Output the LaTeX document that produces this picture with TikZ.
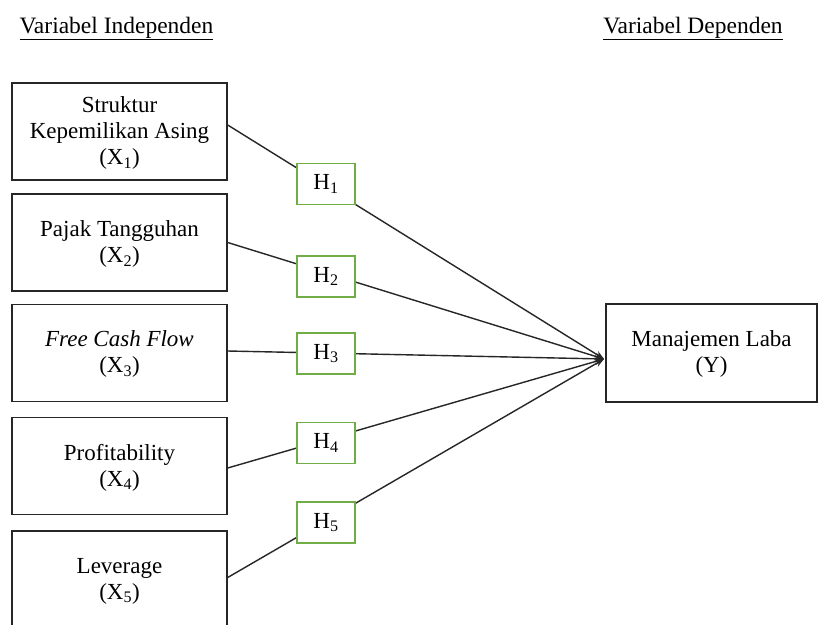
\documentclass[tikz,border=0pt]{standalone}
\usepackage{fontspec}
\setmainfont{Liberation Serif}
\usetikzlibrary{arrows.meta}
\definecolor{hgreen}{HTML}{70AD47}
\begin{document}
\begin{tikzpicture}[x=1pt,y=-1pt,
  varbox/.style={draw=black!85, line width=1.4pt, fill=white, minimum width=215pt,
    minimum height=97pt, align=center, inner sep=0pt, text depth=2pt, font=\fontsize{23}{26}\selectfont},
  hbox/.style={draw=hgreen, line width=1.3pt, fill=white, minimum width=58pt,
    minimum height=41pt, inner sep=0pt, font=\fontsize{23}{26}\selectfont},
  head/.style={inner sep=0pt, font=\fontsize{23.5}{26}\selectfont},
  conn/.style={draw=black!85, line width=1.4pt, -{Stealth[length=9pt,width=7pt]}}]
\useasboundingbox (0,0) rectangle (818,624);
\clip (0,0) rectangle (818,624);
\fill[white] (0,0) rectangle (818,624);

\node[head] (hi) at (116.5,28.5) {\underline{Variabel Independen}};
\node[head] (hd) at (693,28.5) {\underline{Variabel Dependen}};

\node[varbox] (b1) at (119.5,131.5) {Struktur\\Kepemilikan Asing\\(X\textsubscript{1})};
\node[varbox] (b2) at (119.5,242.5) {Pajak Tangguhan\\(X\textsubscript{2})};
\node[varbox] (b3) at (119.5,353) {\textit{Free Cash Flow}\\(X\textsubscript{3})};
\node[varbox] (b4) at (119.5,466) {Profitability\\(X\textsubscript{4})};
\node[varbox] (b5) at (119.5,579.5) {Leverage\\(X\textsubscript{5})};

\node[varbox, minimum width=211pt, minimum height=98pt] (y) at (711.5,353) {Manajemen Laba\\(Y)};

\coordinate (tip) at (604,359);

\draw[conn] ([yshift=6.5pt]b1.east) -- (tip);
\draw[conn] (b2.east) -- (tip);
\draw[conn] ([yshift=2pt]b3.east) -- (tip);
\draw[conn] ([yshift=-2pt]b4.east) -- (tip);
\draw[conn] ([yshift=2pt]b5.east) -- (tip);

\node[hbox] (h1) at (326,184) {H\textsubscript{1}};
\node[hbox] (h2) at (326,276.5) {H\textsubscript{2}};
\node[hbox] (h3) at (326,353.5) {H\textsubscript{3}};
\node[hbox] (h4) at (326,443) {H\textsubscript{4}};
\node[hbox] (h5) at (326,522.5) {H\textsubscript{5}};
\end{tikzpicture}
\end{document}
